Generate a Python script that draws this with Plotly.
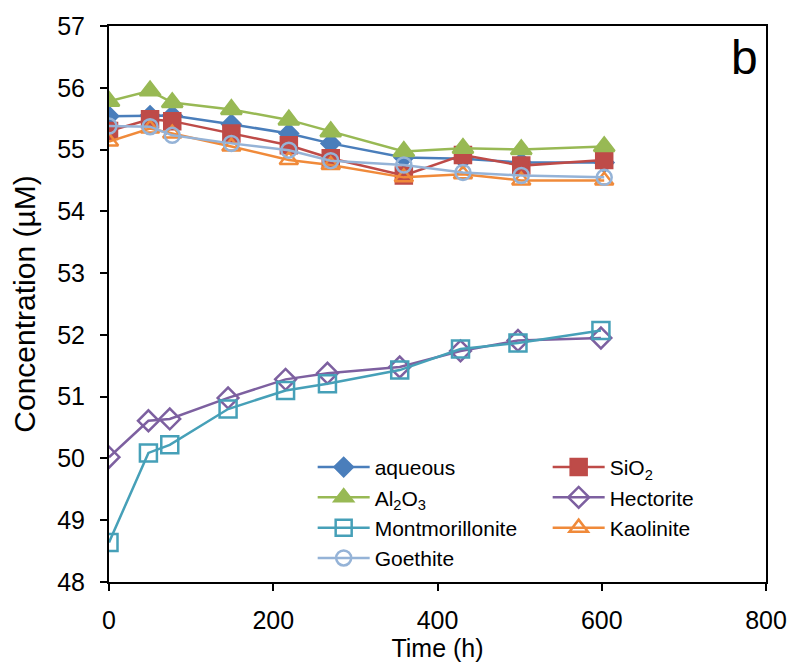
import plotly.graph_objects as go

time_top = [0, 50, 77, 149, 219, 270, 359, 431, 502, 603]
time_clay = [0, 48, 74, 145, 215, 266, 354, 428, 498, 599]

aqueous = [55.54, 55.55, 55.55, 55.41, 55.26, 55.10, 54.87, 54.85, 54.79, 54.79]
sio2 = [55.30, 55.49, 55.46, 55.26, 55.07, 54.86, 54.58, 54.91, 54.74, 54.83]
al2o3 = [55.78, 55.95, 55.76, 55.65, 55.48, 55.29, 54.97, 55.02, 55.00, 55.05]
hectorite = [50.02, 50.61, 50.64, 50.98, 51.28, 51.38, 51.48, 51.74, 51.91, 51.95]
montmorillonite = [48.64, 50.09, 50.22, 50.80, 51.10, 51.21, 51.43, 51.77, 51.87, 52.07]
kaolinite = [55.13, 55.34, 55.26, 55.05, 54.83, 54.75, 54.55, 54.60, 54.50, 54.50]
goethite = [55.38, 55.37, 55.23, 55.10, 54.99, 54.82, 54.75, 54.63, 54.58, 54.55]

x_ticks = [0, 200, 400, 600, 800]
y_ticks = [48, 49, 50, 51, 52, 53, 54, 55, 56, 57]

FONT = "Liberation Sans, Arial, sans-serif"

series = [
    ("aqueous", time_top, aqueous, "#4A7EBB", "diamond", 14),
    ("SiO<sub>2</sub>", time_top, sio2, "#BE4B48", "square", 16),
    ("Al<sub>2</sub>O<sub>3</sub>", time_top, al2o3, "#98B954", "triangle-up", 18),
    ("Hectorite", time_clay, hectorite, "#7D60A0", "diamond-open", 16),
    ("Montmorillonite", time_clay, montmorillonite, "#46A0B8", "square-open", 17),
    ("Kaolinite", time_top, kaolinite, "#F08A3A", "triangle-up-open", 16),
    ("Goethite", time_top, goethite, "#95B3D7", "circle-open", 15),
]

fig = go.Figure()
for name, t, v, color, sym, size in series:
    fig.add_trace(go.Scatter(
        x=t, y=v, name=name, mode="lines+markers",
        line=dict(color=color, width=2.5),
        marker=dict(symbol=sym, size=size, color=color,
                    line=dict(color=color, width=2.5)),
    ))

fig.update_layout(
    width=799, height=666,
    margin=dict(l=109, r=28, t=19, b=75),
    paper_bgcolor="white", plot_bgcolor="white",
    font=dict(family=FONT, size=25, color="black"),
    showlegend=True,
    legend=dict(
        orientation="h", x=0.31, y=0.243, xanchor="left", yanchor="top",
        entrywidth=168, entrywidthmode="pixels", itemwidth=52,
        font=dict(family=FONT, size=21, color="black"),
        bgcolor="rgba(0,0,0,0)", tracegroupgap=0,
    ),
    xaxis=dict(
        range=[0, 800], tickvals=x_ticks, ticktext=[str(v) for v in x_ticks],
        showgrid=False, zeroline=False,
        showline=True, linecolor="black", linewidth=2, mirror=True,
        ticks="outside", ticklen=7, tickwidth=2, tickcolor="black",
        ticklabelstandoff=8,
        title=dict(text="Time (h)", font=dict(size=25), standoff=2),
    ),
    yaxis=dict(
        range=[48, 57], tickvals=y_ticks, ticktext=[str(v) for v in y_ticks],
        showgrid=False, zeroline=False,
        showline=True, linecolor="black", linewidth=2, mirror=True,
        ticks="outside", ticklen=7, tickwidth=2, tickcolor="black",
        ticklabelstandoff=10,
        title=dict(text="Concentration (µM)", font=dict(size=30), standoff=13),
    ),
    annotations=[dict(
        text="b", xref="paper", yref="paper", x=0.968, y=0.943,
        xanchor="center", yanchor="middle", showarrow=False,
        font=dict(family=FONT, size=48, color="black"),
    )],
)

fig.write_html("out.html")
